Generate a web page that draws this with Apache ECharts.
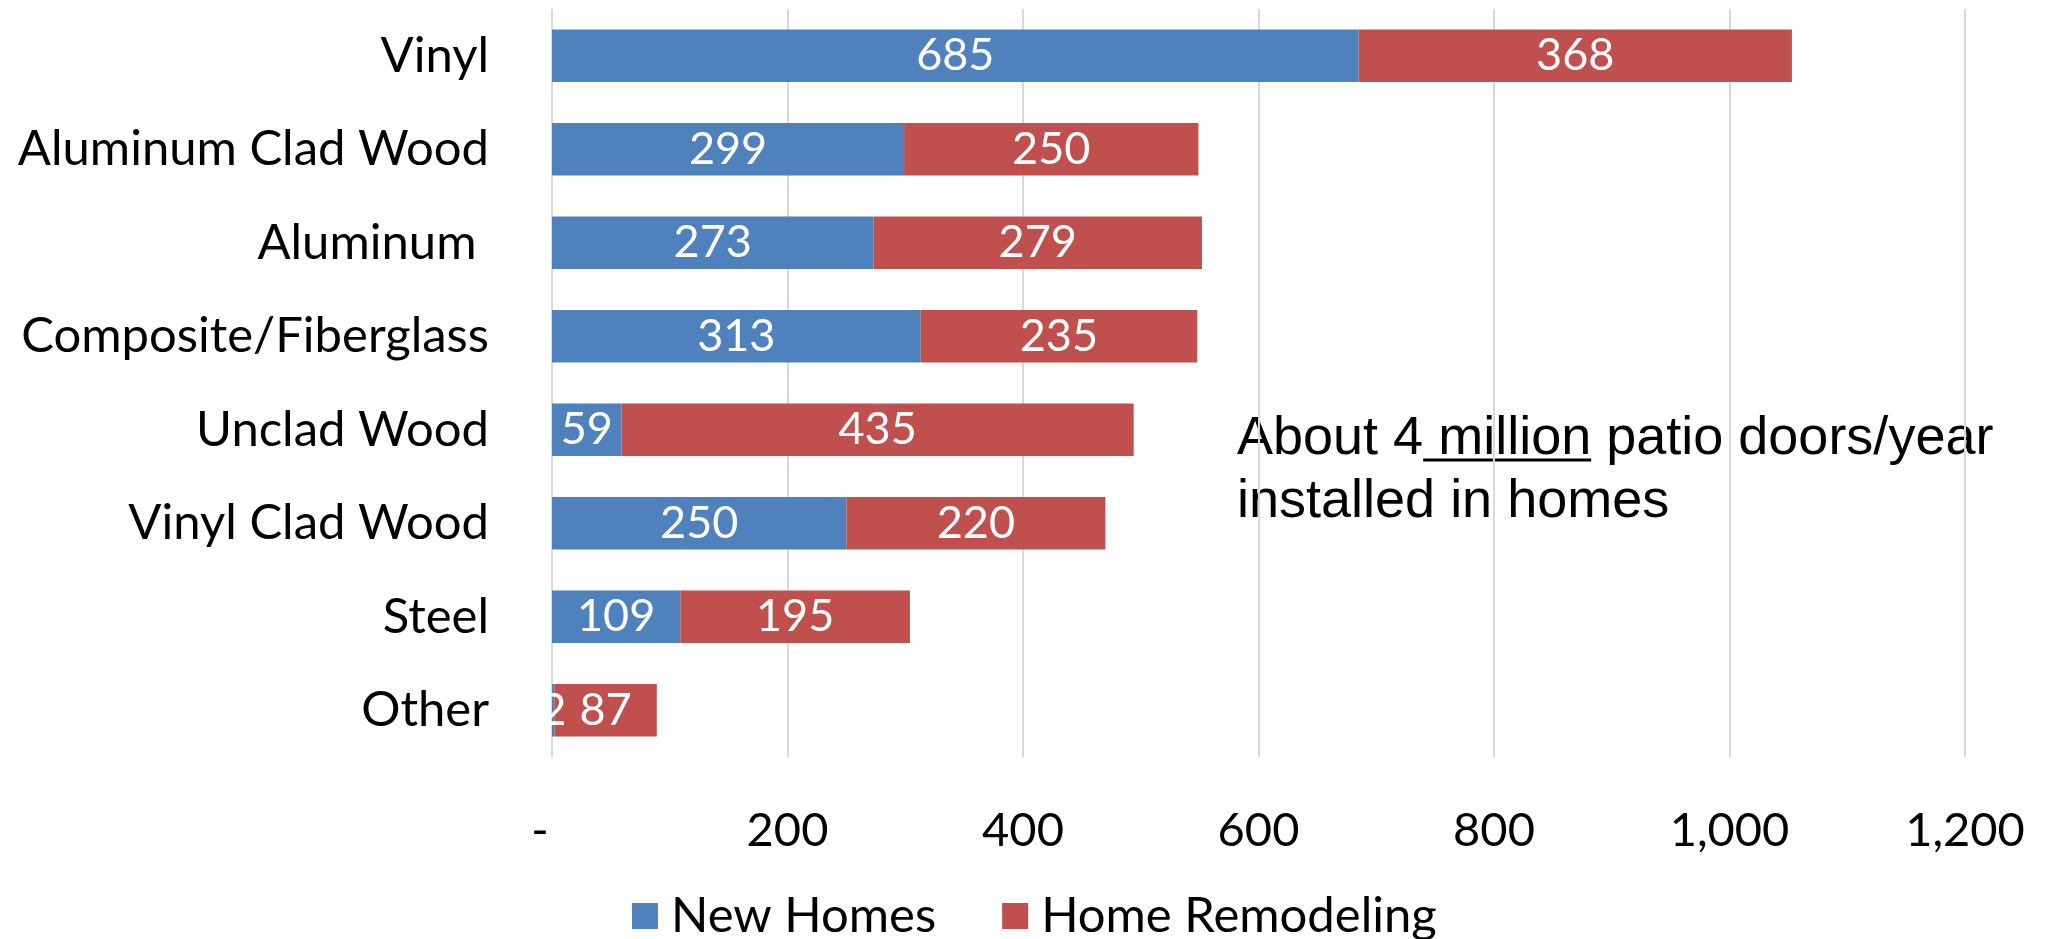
<!DOCTYPE html>
<html>
<head>
<meta charset="utf-8">
<title>Patio doors by material</title>
<script src="https://cdn.jsdelivr.net/npm/echarts@6/dist/echarts.min.js"></script>
<style>
  html, body { margin: 0; padding: 0; background: #fff; }
  #chart { width: 2055px; height: 939px; }
</style>
</head>
<body>
<div id="chart"></div>
<script>
// data (thousands of doors)
const categories = ['Vinyl', 'Aluminum Clad Wood', 'Aluminum ', 'Composite/Fiberglass', 'Unclad Wood', 'Vinyl Clad Wood', 'Steel', 'Other'];
const newHomes = [685, 299, 273, 313, 59, 250, 109, 2];
const remodeling = [368, 250, 279, 235, 435, 220, 195, 87];
const seriesNames = ['New Homes', 'Home Remodeling'];
const noteLine1 = ['About 4', ' million', ' patio doors/year'];
const noteLine2 = 'installed in homes';

const FONT = 'Lato';
const NOTE_FONT = 'Liberation Sans';
const NOTE_SIZE = 54;

let chart = echarts.init(document.getElementById('chart'));

// measure the note so the underline sits under " million"
function text_width(txt){
  let ctx = document.createElement('canvas').getContext('2d');
  ctx.font = NOTE_SIZE + 'px "' + NOTE_FONT + '"';
  return ctx.measureText(txt).width;
}
let note_x = 1237;
let note_y = 408;
let u_start = note_x + text_width(noteLine1[0]);
let u_end = u_start + text_width(noteLine1[1]);

let label_style = {
  show: true,
  position: 'inside',
  color: '#FFFFFF',
  fontFamily: FONT,
  fontSize: 45
};

let option = {
  animation: false,
  textStyle: { fontFamily: FONT },
  grid: { left: 552, right: 90, top: 9, bottom: 182, containLabel: false },
  xAxis: {
    type: 'value',
    min: 0,
    max: 1200,
    interval: 200,
    axisLine: { show: false },
    axisTick: { show: false },
    splitLine: { lineStyle: { color: '#D9D9D9', width: 2 } },
    axisLabel: {
      margin: 50,
      color: '#000',
      fontFamily: FONT,
      fontSize: 47,
      formatter: (v) => v === 0 ? '-  ' : v.toLocaleString('en-US')
    }
  },
  yAxis: {
    type: 'category',
    inverse: true,
    data: categories,
    axisLine: { show: false },
    axisTick: { show: false },
    axisLabel: { margin: 63, color: '#000', fontFamily: FONT, fontSize: 49 }
  },
  legend: {
    top: 886,
    left: 627,
    icon: 'rect',
    itemWidth: 26,
    itemHeight: 26,
    itemGap: 66,
    textStyle: { color: '#000', fontFamily: FONT, fontSize: 49, lineHeight: 50, padding: [0, 0, 0, 8] },
    data: seriesNames
  },
  series: [
    {
      name: seriesNames[0],
      type: 'bar',
      stack: 'total',
      data: newHomes,
      barCategoryGap: '44%',
      itemStyle: { color: '#4F81BD' },
      label: label_style
    },
    {
      name: seriesNames[1],
      type: 'bar',
      stack: 'total',
      data: remodeling,
      barCategoryGap: '44%',
      itemStyle: { color: '#C0504D' },
      label: label_style
    }
  ],
  graphic: [
    {
      type: 'text',
      left: note_x,
      top: note_y,
      style: {
        text: noteLine1.join('') + '\n' + noteLine2,
        fill: '#000',
        font: NOTE_SIZE + 'px "' + NOTE_FONT + '"',
        lineHeight: 63
      }
    },
    {
      type: 'line',
      shape: { x1: u_start, y1: note_y + 52, x2: u_end, y2: note_y + 52 },
      style: { stroke: '#000', lineWidth: 3 }
    }
  ]
};
chart.setOption(option);
</script>
</body>
</html>
